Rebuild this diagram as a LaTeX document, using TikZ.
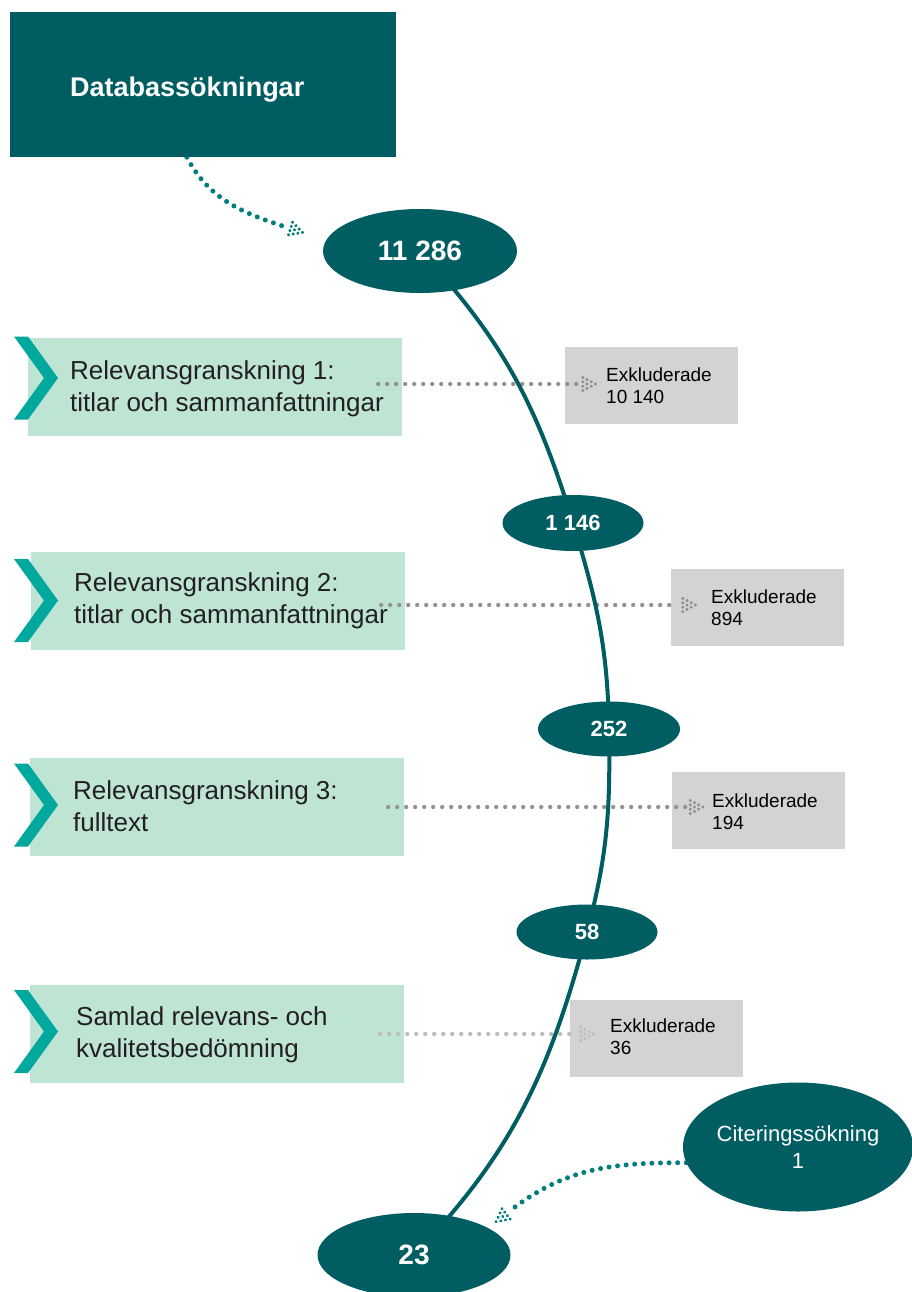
\documentclass[tikz,border=0pt]{standalone}
\usepackage{fontspec}
\setmainfont{Liberation Sans}
\usetikzlibrary{calc,shapes.geometric,decorations.markings}
\pgfdeclarelayer{fg}
\pgfsetlayers{main,fg}
\definecolor{dteal}{RGB}{0,94,99}
\definecolor{chevcol}{RGB}{0,168,157}
\definecolor{lgreen}{RGB}{190,228,212}
\definecolor{lgray}{RGB}{211,211,211}
\definecolor{dotgray}{RGB}{145,145,145}
\definecolor{dotlight}{RGB}{188,188,188}
\definecolor{dotteal}{RGB}{0,125,125}
\definecolor{txtcol}{RGB}{35,31,32}
\newcommand\dotclust[1]{\fill[#1] (5,6.6) circle[radius=1.7] (5,2.2) circle[radius=1.7] (5,-2.2) circle[radius=1.7] (5,-6.6) circle[radius=1.7] (9.2,4.4) circle[radius=1.7] (9.2,0) circle[radius=1.7] (9.2,-4.4) circle[radius=1.7] (13.4,2.2) circle[radius=1.7] (13.4,-2.2) circle[radius=1.7] (17.6,0) circle[radius=1.7];}
\tikzset{
  gbox/.style={rectangle, fill=lgreen, minimum width=374pt, minimum height=98pt, inner sep=0pt},
  gtext/.style={anchor=west, align=left, text=txtcol, font=\fontsize{26}{32}\selectfont, inner sep=0pt},
  xbox/.style={rectangle, fill=lgray, minimum width=173pt, minimum height=77pt, inner sep=0pt},
  xtext/.style={anchor=west, align=left, text=black, font=\fontsize{19}{22}\selectfont, inner sep=0pt},
  num/.style={ellipse, fill=dteal, text=white, inner sep=0pt, font=\bfseries\fontsize{28}{32}\selectfont},
  numsmall/.style={num, font=\bfseries\fontsize{22}{26}\selectfont},
  chevpic/.pic={\fill[chevcol] (0,41.5) -- (14,41.5) -- (44,0) -- (14,-41.5) -- (0,-41.5) -- (30,0) -- cycle;},
  clusterend/.style={postaction={decorate, decoration={markings, mark=at position 1 with {\dotclust{#1}}}}},
  graydots/.style={draw=#1, line width=4.3pt, line cap=round, dash pattern=on 0pt off 9pt, clusterend=#1},
  tealdots/.style={draw=dotteal, line width=5pt, line cap=round, dash pattern=on 0pt off 8.6pt, clusterend=dotteal},
  flowcurve/.style={draw=dteal, line width=4pt},
}
\begin{document}
\begin{tikzpicture}[x=1pt,y=1pt]
\useasboundingbox (0,0) rectangle (911,-1292);

% top box and ellipses (foreground)
\begin{pgfonlayer}{fg}
\node[rectangle, fill=dteal, minimum width=386pt, minimum height=145pt, inner sep=0pt] (db) at (203,-84.5) {};
\node[anchor=base west, text=white, inner sep=0pt, font=\bfseries\fontsize{27}{32}\selectfont] (dbt) at (70,-97) {Databassökningar};
\node[num, minimum width=194pt, minimum height=84pt] (n1) at (420,-251) {11 286};
\node[numsmall, minimum width=141pt, minimum height=56pt] (n2) at (573,-523) {1 146};
\node[numsmall, minimum width=142pt, minimum height=55pt] (n3) at (609,-729) {252};
\node[numsmall, minimum width=141pt, minimum height=55pt] (n4) at (587,-932) {58};
\node[num, minimum width=193pt, minimum height=84pt] (n5) at (414,-1255) {23};
\node[ellipse, fill=dteal, text=white, inner sep=0pt, align=center, minimum width=228pt, minimum height=129pt, font=\fontsize{22}{27}\selectfont] (cit) at (798,-1147) {Citeringssökning\\1};
\end{pgfonlayer}

% green boxes with chevrons
\node[gbox] (b1) at (215,-386.5) {};
\node[gbox] (b2) at (218,-600.5) {};
\node[gbox] (b3) at (217,-806.5) {};
\node[gbox] (b4) at (217,-1034) {};
\pic at (14,-378) {chevpic};
\pic at (14,-600.5) {chevpic};
\pic at (14,-805) {chevpic};
\pic at (14,-1031.5) {chevpic};
\node[gtext] (t1) at (70,-389) {Relevansgranskning 1:\\titlar och sammanfattningar};
\node[gtext] (t2) at (74,-601) {Relevansgranskning 2:\\titlar och sammanfattningar};
\node[gtext] (t3) at (73,-806.5) {Relevansgranskning 3:\\fulltext};
\node[gtext] (t4) at (76,-1035) {Samlad relevans- och\\kvalitetsbedömning};

% grey boxes
\node[xbox] (g1) at (651.5,-385.5) {};
\node[xbox] (g2) at (757.5,-607.5) {};
\node[xbox] (g3) at (758,-810.5) {};
\node[xbox] (g4) at (656.5,-1038.5) {};
\node[xtext] (x1) at (606,-386) {Exkluderade\\10 140};
\node[xtext] (x2) at (711,-608) {Exkluderade\\894};
\node[xtext] (x3) at (712,-811.5) {Exkluderade\\194};
\node[xtext] (x4) at (610,-1037) {Exkluderade\\36};

% dotted exclusion arrows
\draw[graydots=dotgray] ($(b1.east)+(-24,2.5)$) -- ($(g1.west)+(13,1.5)$);
\draw[graydots=dotgray] ($(b2.east)+(-24,-4.5)$) -- ($(g2.west)+(7,2.5)$);
\draw[graydots=dotgray] ($(b3.east)+(-16,-0.5)$) -- ($(g3.west)+(14,3.5)$);
\draw[graydots=dotlight] ($(b4.east)+(-24,0)$) -- ($(g4.west)+(6,4.5)$);

% main flow curve
\draw[flowcurve] (n1.center) to[out=-47,in=107] (n2.center) to[out=-73,in=91] (n3.center) to[out=-89,in=75] (n4.center) to[out=-105,in=46] (n5.center);

% teal dotted arrows
\draw[tealdots] ($(db.south west)+(177,0)$) to[out=-62,in=162] ($(n1.west)+(-37,24)$);
\draw[tealdots] (cit.188) to[out=180,in=38] ($(n5.north)+(96,2)$);
\end{tikzpicture}
\end{document}
